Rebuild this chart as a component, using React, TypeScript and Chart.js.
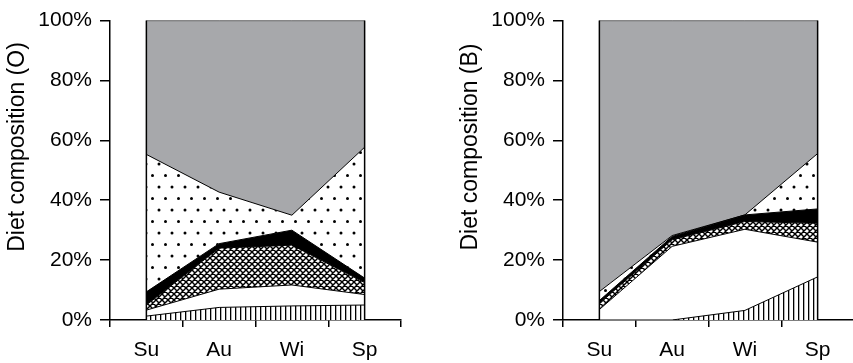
import React, { useEffect, useRef } from 'react';
import { Chart, registerables } from 'chart.js';

Chart.register(...registerables);

// ---- data ----
const categories = ['Su', 'Au', 'Wi', 'Sp'];
const yTickValues = [0, 20, 40, 60, 80, 100];

// Panel O (left) – layer shares in % (bottom to top)
const oVertical = [1.3, 4.2, 4.7, 5.0];
const oWhite = [2.0, 6.1, 7.0, 3.5];
const oCross = [1.7, 13.7, 13.3, 4.0];
const oBlack = [4.4, 1.5, 5.0, 1.5];
const oDotted = [45.9, 17.2, 5.0, 43.7];
const oGray = [44.7, 57.3, 65.0, 42.3];

// Panel B (right)
const bVertical = [0, 0, 3.2, 14.4];
const bWhite = [3.5, 24.6, 27.1, 11.6];
const bCross = [2.0, 2.2, 2.6, 6.3];
const bBlack = [1.0, 1.1, 2.2, 4.8];
const bDotted = [3.0, 0.3, 0, 18.5];
const bGray = [90.5, 71.8, 64.9, 44.4];

const FONT = "'Liberation Sans', Arial, sans-serif";
const GRAY = '#a7a8ab';

function makePattern(kind: string): CanvasPattern | string {
  const c = document.createElement('canvas');
  const ctx = c.getContext('2d')!;
  if (kind === 'vertical') {
    c.width = 5; c.height = 5;
    ctx.fillStyle = '#fff'; ctx.fillRect(0, 0, 5, 5);
    ctx.fillStyle = '#000'; ctx.fillRect(0, 0, 1.3, 5);
  } else if (kind === 'cross') {
    c.width = 6; c.height = 6;
    ctx.fillStyle = '#fff'; ctx.fillRect(0, 0, 6, 6);
    ctx.strokeStyle = '#000'; ctx.lineWidth = 1.45;
    ctx.beginPath();
    for (let k = -1; k <= 1; k++) {
      ctx.moveTo(-1 + k * 6, -1); ctx.lineTo(7 + k * 6, 7);
      ctx.moveTo(7 + k * 6, -1); ctx.lineTo(-1 + k * 6, 7);
    }
    ctx.stroke();
  } else if (kind === 'dots') {
    c.width = 13; c.height = 23;
    ctx.fillStyle = '#fff'; ctx.fillRect(0, 0, 13, 23);
    ctx.fillStyle = '#000';
    ctx.beginPath(); ctx.arc(3, 3, 1.5, 0, Math.PI * 2); ctx.fill();
    ctx.beginPath(); ctx.arc(9.5, 14.5, 1.5, 0, Math.PI * 2); ctx.fill();
  } else {
    return '#fff';
  }
  return ctx.createPattern(c, 'repeat')!;
}

const edgePlugin = {
  id: 'edges',
  afterDatasetsDraw(chart: any) {
    const { ctx, scales } = chart;
    const x = scales.x, y = scales.y;
    ctx.save();
    ctx.strokeStyle = '#000';
    ctx.lineWidth = 1.5;
    [0, categories.length - 1].forEach((i) => {
      const px = x.getPixelForValue(i);
      ctx.beginPath();
      ctx.moveTo(px, y.getPixelForValue(0));
      ctx.lineTo(px, y.getPixelForValue(100));
      ctx.stroke();
    });
    ctx.restore();
  },
};

const titlePlugin = {
  id: 'ytitle',
  afterDraw(chart: any) {
    const text = chart.options.plugins.ytitle?.text;
    if (!text) return;
    const { ctx } = chart;
    ctx.save();
    ctx.translate(18, 147);
    ctx.rotate(-Math.PI / 2);
    ctx.fillStyle = '#000';
    ctx.font = `23px ${FONT}`;
    ctx.textAlign = 'center';
    ctx.textBaseline = 'middle';
    ctx.fillText(text, 0, 0);
    ctx.restore();
  },
};

function Panel(props: { title: string; layers: number[][]; left: number }) {
  const ref = useRef<HTMLCanvasElement>(null);
  useEffect(() => {
    const fills = [
      makePattern('vertical'),
      '#ffffff',
      makePattern('cross'),
      '#000000',
      makePattern('dots'),
      GRAY,
    ];
    const datasets = props.layers.map((d, i) => ({
      data: d,
      backgroundColor: fills[i] as any,
      borderColor: '#000',
      borderWidth: 1,
      pointRadius: 0,
      tension: 0,
      fill: i === 0 ? 'origin' : '-1',
    }));
    const chart = new Chart(ref.current!, {
      type: 'line',
      data: { labels: categories, datasets },
      plugins: [edgePlugin, titlePlugin],
      options: {
        animation: false,
        responsive: false,
        maintainAspectRatio: false,
        layout: { padding: { top: 18, right: 19, left: 0, bottom: 0 } },
        plugins: {
          legend: { display: false },
          tooltip: { enabled: false },
          ytitle: { text: props.title },
        } as any,
        scales: {
          x: {
            offset: true,
            afterFit: (s: any) => { s.height = 43; },
            grid: {
              offset: true,
              drawOnChartArea: false,
              drawTicks: true,
              tickLength: 7,
              color: '#000',
              lineWidth: 1.5,
            },
            border: { display: true, color: '#000', width: 1.5 },
            ticks: { color: '#000', font: { family: FONT, size: 21 }, padding: 11, maxRotation: 0 },
          },
          y: {
            stacked: true,
            min: 0,
            max: 100,
            afterFit: (s: any) => { s.width = 110; },
            afterBuildTicks: (s: any) => { s.ticks = yTickValues.map((v) => ({ value: v })); },
            grid: {
              drawOnChartArea: false,
              drawTicks: true,
              tickLength: 10,
              color: '#000',
              lineWidth: 1.5,
            },
            border: { display: true, color: '#000', width: 1.5 },
            ticks: {
              color: '#000',
              font: { family: FONT, size: 21 },
              padding: 8,
              callback: (v: any) => v + '%',
            },
          },
        },
      },
    });
    return () => chart.destroy();
  }, []);
  return (
    <canvas
      ref={ref}
      width={420}
      height={363}
      style={{ position: 'absolute', left: props.left, top: 0, width: 420, height: 363 }}
    />
  );
}

export default function App() {
  return (
    <div
      style={{
        position: 'fixed',
        left: 0,
        top: 0,
        width: 853,
        height: 363,
        overflow: 'hidden',
        background: '#fff',
      }}
    >
      <Panel
        title="Diet composition (O)"
        layers={[oVertical, oWhite, oCross, oBlack, oDotted, oGray]}
        left={0}
      />
      <Panel
        title="Diet composition (B)"
        layers={[bVertical, bWhite, bCross, bBlack, bDotted, bGray]}
        left={453}
      />
    </div>
  );
}
